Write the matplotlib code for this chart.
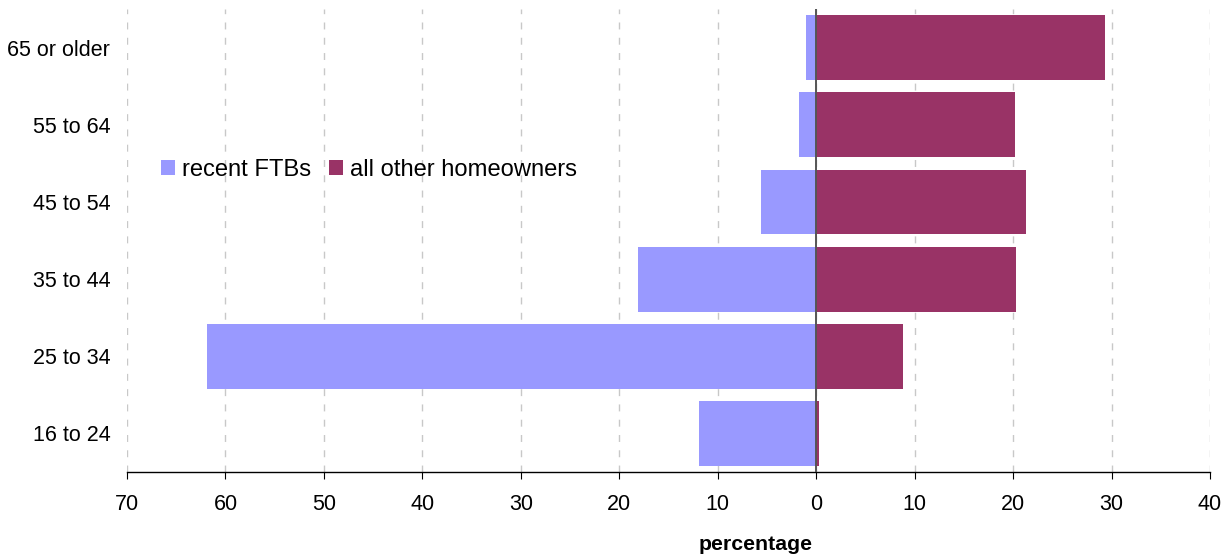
import numpy as np
import matplotlib
matplotlib.use('Agg')
import matplotlib.pyplot as plt
from matplotlib.ticker import FuncFormatter

plt.rcParams['font.family'] = ['Liberation Sans', 'DejaVu Sans']

# Age distribution of buyers, percentage
age_groups = ['16 to 24', '25 to 34', '35 to 44', '45 to 54', '55 to 64', '65 or older']
recent_ftbs = [11.9, 61.9, 18.1, 5.6, 1.7, 1.0]
other_owners = [0.3, 8.8, 20.3, 21.3, 20.2, 29.3]

ftb_color = '#9999FF'
other_color = '#993366'

fig = plt.figure(figsize=(12.26, 5.55), dpi=100)
ax = fig.add_axes([0.1036, 0.1495, 0.8834, 0.8343])

y = np.arange(len(age_groups))
ax.barh(y, -np.array(recent_ftbs), height=0.84, color=ftb_color,
        label='recent FTBs', zorder=2)
ax.barh(y, other_owners, height=0.84, color=other_color,
        label='all other homeowners', zorder=2)
ax.axvline(0, color='#555555', lw=1.4, zorder=3)

ax.set_xlim(-70, 40)
ax.set_ylim(-0.5, 5.5)
ax.set_xticks(np.arange(-70, 41, 10))
ax.xaxis.set_major_formatter(FuncFormatter(lambda v, p: '%d' % abs(v)))
ax.set_yticks(y)
ax.set_yticklabels(age_groups)

ax.grid(axis='x', color='#c8c8c8', linestyle=(0, (5, 6)), lw=1, zorder=0)
for s in ['top', 'right', 'left']:
    ax.spines[s].set_visible(False)
ax.spines['bottom'].set_color('black')
ax.spines['bottom'].set_linewidth(1)

ax.tick_params(axis='x', length=5, direction='out', pad=11, labelsize=15.5)
ax.tick_params(axis='y', length=0, pad=12, labelsize=15.5)

ax.set_xlabel('percentage', fontsize=15.3, fontweight='bold')
ax.xaxis.set_label_coords(0.58, -0.135)

ax.legend(loc='center left', bbox_to_anchor=(0.031, 0.652), frameon=False,
          ncol=2, fontsize=17.1, handlelength=0.6, handleheight=0.6,
          handletextpad=0.3, columnspacing=0.75, borderpad=0, borderaxespad=0)

plt.savefig('out.png', dpi=100)
